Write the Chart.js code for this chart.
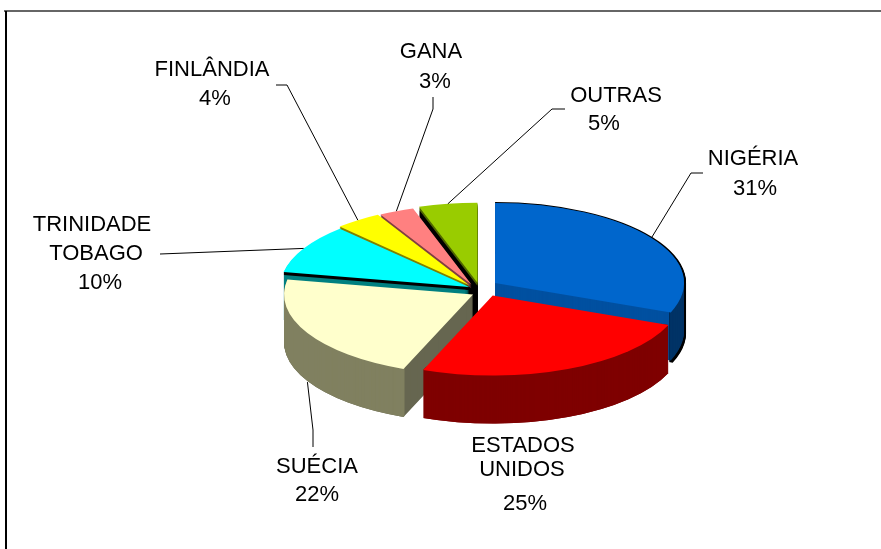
<!DOCTYPE html>
<html lang="pt">
<head>
<meta charset="UTF-8">
<title>Pizza 3D</title>
<script src="https://cdn.jsdelivr.net/npm/chart.js"></script>
<style>
  * { margin:0; padding:0; }
  body { background:#fff; width:881px; height:549px; overflow:hidden; }
  canvas { display:block; }
</style>
</head>
<body>
<canvas id="grafico" width="881" height="549"></canvas>
<script>
// dados
const paises = ['NIGÉRIA', 'ESTADOS UNIDOS', 'SUÉCIA', 'TRINIDADE TOBAGO', 'FINLÂNDIA', 'GANA', 'OUTRAS'];
const valores = [31, 25, 22, 10, 4, 3, 5];

// cores: topo, face de corte e parede externa
const corTopo = ['#0066cc', '#ff0000', '#ffffcc', '#00ffff', '#ffff00', '#ff8080', '#99cc00'];
const corCorte = ['#0050a0', '#7f0000', '#666650', '#008080', '#808000', '#804040', '#4f6600'];
const corParede = ['#003366', '#7f0000', '#808060', '#000000', '#808000', '#804040', '#4f6600'];

// afastamento de cada fatia, ajuste fino (a perspectiva do original não é elipse perfeita),
// ordem de pintura, faixa preta sob o topo e espessura do anel da parede
const explosao = [17, 22, 12.5, 10, 12, 14, 10];
const ajuste = [[0, 0], [3, 0], [3, 5], [-3, 2], [-5, 2], [-4, 3], [-2, 0]];
const ordem = [6, 5, 4, 3, 0, 2, 1];
const faixaPreta = [null, null, null, [1, 3], [4, 60], [5, 60], [4, 60]];
const anelParede = [2, 8, 4, 0, 0, 0, 0];

const ACHATAMENTO = 80 / 189;
const PROFUNDIDADE = 48;

// rótulos: cada linha com x, y (centro do texto)
const rotulos = [
  [['NIGÉRIA', 753, 159], ['31%', 755, 189]],
  [['ESTADOS', 523, 446], ['UNIDOS', 522, 470], ['25%', 525, 504]],
  [['SUÉCIA', 317, 467], ['22%', 317, 495]],
  [['TRINIDADE', 92, 225], ['TOBAGO', 96, 254], ['10%', 100, 283]],
  [['FINLÂNDIA', 212, 70], ['4%', 215, 99]],
  [['GANA', 431, 52], ['3%', 435, 82]],
  [['OUTRAS', 616, 96], ['5%', 604, 124]]
];

// linhas de chamada: pontos fixos do lado do rótulo, o último ponto sai da fatia
const chamadas = [
  [[703, 173], [691, 173]],
  null,
  [[313, 447], [313, 430]],
  [[160, 254]],
  [[276, 85], [287, 85]],
  [[433, 97], [433, 109]],
  [[565, 109], [552, 109]]
];
const chamadaNaParede = [false, false, true, false, false, false, false];

function pintaFatia(ctx, arco, i, cor, dy, anel, extra) {
  const original = arco.options;
  const rInt = arco.innerRadius, rExt = arco.outerRadius;
  const meio = (arco.startAngle + arco.endAngle) / 2;
  arco.options = Object.assign({}, original, { backgroundColor: cor, borderWidth: 0 });
  arco.outerRadius = rExt + (extra || 0);
  arco.innerRadius = anel ? rExt - anel : 0;
  ctx.save();
  ctx.translate(arco.x + ajuste[i][0], arco.y + ajuste[i][1] + dy);
  ctx.scale(1, ACHATAMENTO);
  ctx.translate(-arco.x, -arco.y);
  ctx.translate(Math.cos(meio) * explosao[i], Math.sin(meio) * explosao[i]);
  arco.draw(ctx);
  ctx.restore();
  arco.options = original;
  arco.innerRadius = rInt;
  arco.outerRadius = rExt;
}

const pizza3d = {
  id: 'pizza3d',
  beforeDraw(chart) {
    const ctx = chart.ctx;
    ctx.fillStyle = '#666666';
    ctx.fillRect(4, 10, 877, 2);
    ctx.fillStyle = '#000000';
    ctx.fillRect(5, 11, 2, 538);
  },
  beforeDatasetsDraw(chart) {
    const ctx = chart.ctx;
    const arcos = chart.getDatasetMeta(0).data;
    ordem.forEach(i => {
      const arco = arcos[i];
      const faixa = faixaPreta[i];
      for (let d = PROFUNDIDADE; d >= 1; d--) {
        const preto = faixa && d >= faixa[0] && d <= faixa[1];
        pintaFatia(ctx, arco, i, preto ? '#000000' : corCorte[i], d, 0);
      }
      if (i === 0) {
        for (let d = PROFUNDIDADE + 2; d >= 0; d--) pintaFatia(ctx, arco, i, '#000000', d, anelParede[i], 2);
      }
      // nas fatias de trás a parede externa não aparece
      if (anelParede[i]) {
        for (let d = PROFUNDIDADE; d >= 0; d--) pintaFatia(ctx, arco, i, corParede[i], d, anelParede[i]);
      }
      pintaFatia(ctx, arco, i, corTopo[i], 0, 0);
    });
    return false;
  },
  afterDraw(chart) {
    const ctx = chart.ctx;
    const arcos = chart.getDatasetMeta(0).data;
    ctx.strokeStyle = '#000000';
    ctx.lineWidth = 1;
    chamadas.forEach((pontos, i) => {
      if (!pontos) return;
      const arco = arcos[i];
      const meio = (arco.startAngle + arco.endAngle) / 2;
      const r = arco.outerRadius + explosao[i];
      const fimX = arco.x + ajuste[i][0] + Math.cos(meio) * r;
      const fimY = arco.y + ajuste[i][1] + Math.sin(meio) * r * ACHATAMENTO + (chamadaNaParede[i] ? PROFUNDIDADE + 1 : 0);
      ctx.beginPath();
      pontos.forEach((p, j) => j ? ctx.lineTo(p[0], p[1]) : ctx.moveTo(p[0], p[1]));
      ctx.lineTo(fimX, fimY);
      ctx.stroke();
    });
    ctx.fillStyle = '#000000';
    ctx.font = '22px "Liberation Sans"';
    ctx.textAlign = 'center';
    ctx.textBaseline = 'middle';
    rotulos.forEach(linhas => linhas.forEach(l => ctx.fillText(l[0], l[1], l[2])));
  }
};

new Chart(document.getElementById('grafico'), {
  type: 'pie',
  data: {
    labels: paises,
    datasets: [{ data: valores, backgroundColor: corTopo, borderWidth: 0 }]
  },
  options: {
    responsive: false,
    animation: false,
    radius: 189,
    layout: { padding: { left: 81, top: 25 } },
    plugins: { legend: { display: false }, tooltip: { enabled: false } }
  },
  plugins: [pizza3d]
});
</script>
</body>
</html>
